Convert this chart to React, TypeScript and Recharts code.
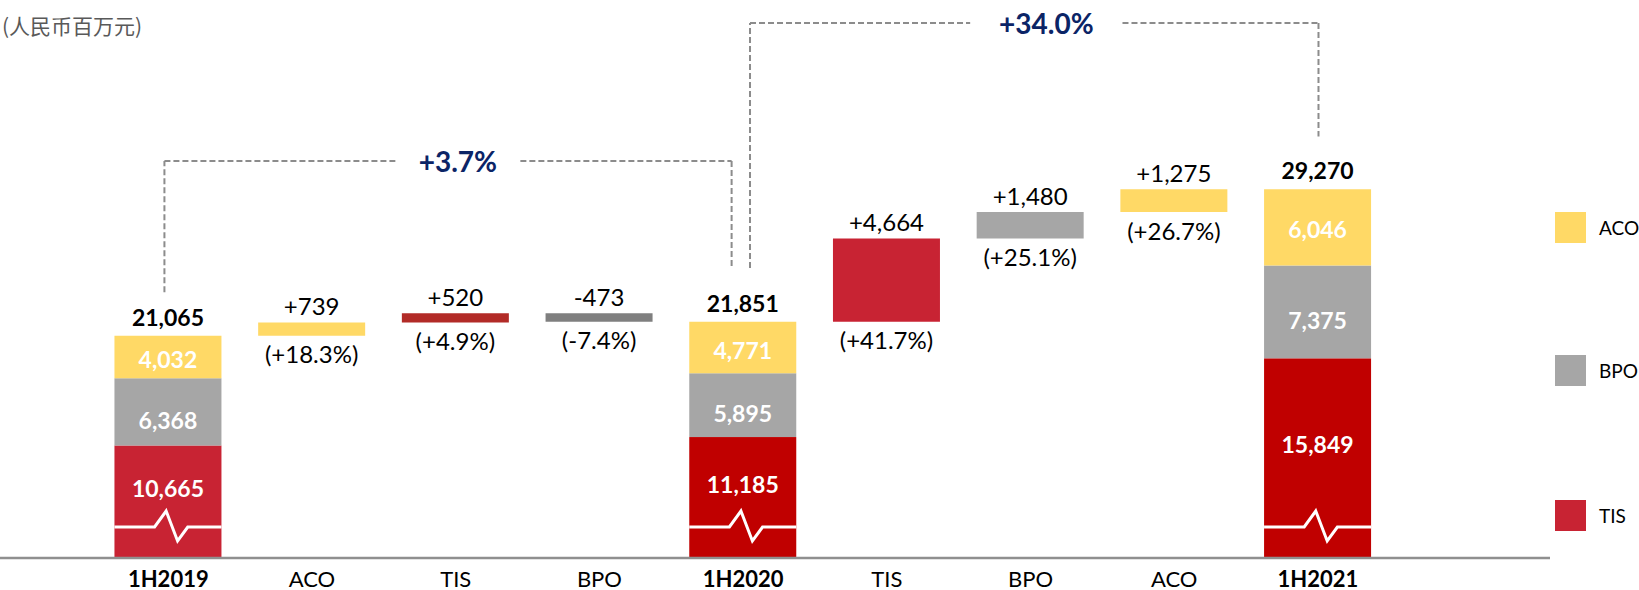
import React from 'react'
import {
  BarChart,
  Bar,
  XAxis,
  YAxis,
  Cell,
  LabelList,
  ReferenceLine,
  ReferenceDot,
} from 'recharts'

// categories along the axis, totals are the three half-year columns
const categories = ['1H2019', 'ACO', 'TIS', 'BPO', '1H2020', 'TIS', 'BPO', 'ACO', '1H2021']
const isTotal = [true, false, false, false, true, false, false, false, true]

// segment values of the total columns
const tisValues = [10665, null, null, null, 11185, null, null, null, 15849]
const bpoValues = [6368, null, null, null, 5895, null, null, null, 7375]
const acoValues = [4032, null, null, null, 4771, null, null, null, 6046]

// changes between the totals
const changeValues = [null, 739, 520, -473, null, 4664, 1480, 1275, null]
const changeShares = [null, '(+18.3%)', '(+4.9%)', '(-7.4%)', null, '(+41.7%)', '(+25.1%)', '(+26.7%)', null]

const growthLabels = ['+3.7%', '+34.0%']

// axis is broken: bars start at this value
const AXIS_FLOOR = 8620
const AXIS_TOP = 39308

const COLORS = {
  aco: '#FFD966',
  bpo: '#A6A6A6',
  tis: '#C82333',
  tisDark: '#C00000',
  navy: '#0B2466',
  dash: '#8C8C8C',
}
const tisColors = [COLORS.tis, '', '', '', COLORS.tisDark, '', '', '', COLORS.tisDark]
const changeColors = ['', COLORS.aco, '#B22B27', '#7F7F7F', '', COLORS.tis, COLORS.bpo, COLORS.aco, '']

const fmt = (v: number) => v.toLocaleString('en-US')
const FONT = 'Lato'

let level = 0
const rows = categories.map((name, i) => {
  if (isTotal[i]) {
    const tis = tisValues[i] as number
    const bpo = bpoValues[i] as number
    const aco = acoValues[i] as number
    level = tis + bpo + aco
    const k = (level - AXIS_FLOOR) / level
    return { idx: i, name, base: AXIS_FLOOR, tis: tis * k, bpo: bpo * k, aco: aco * k, delta: 0, total: level }
  }
  const d = changeValues[i] as number
  const start = level
  level += d
  return { idx: i, name, base: Math.min(start, level), tis: 0, bpo: 0, aco: 0, delta: Math.abs(d), total: level }
})

// bracket annotations (x in category units, y in axis units)
const brackets = [
  { label: growthLabels[0], x1: -0.027, x2: 3.92, top: 30850, leftEnd: 23500, rightEnd: 24860, mid: 2.015, half: 0.435 },
  { label: growthLabels[1], x1: 4.048, x2: 8.004, top: 38580, leftEnd: 24860, rightEnd: 32220, mid: 6.11, half: 0.53 },
]

const TisShape = (p: any) => {
  const { x, y, width, height, payload } = p
  if (!height || height <= 0) return null
  const i = payload.idx
  const fill = tisColors[i] || COLORS.tis
  const bottom = y + height
  const fy = bottom - 31
  const pts = [
    [x, fy],
    [x + 0.375 * width, fy],
    [x + 0.483 * width, bottom - 47],
    [x + 0.59 * width, bottom - 17],
    [x + 0.685 * width, fy],
    [x + width, fy],
  ]
  return (
    <g>
      <rect x={x} y={y} width={width} height={height} fill={fill} />
      <polyline
        points={pts.map((q) => q.join(',')).join(' ')}
        fill="none"
        stroke="#fff"
        strokeWidth={3}
        strokeLinejoin="miter"
      />
    </g>
  )
}

const segLabel = (key: 'tis' | 'bpo' | 'aco') => (props: any) => {
  const { x, y, width, height, value } = props
  const i = value as number
  if (!isTotal[i]) return null
  const raw = key === 'tis' ? tisValues[i] : key === 'bpo' ? bpoValues[i] : acoValues[i]
  const cx = x + width / 2
  let cy = y + height / 2
  if (key === 'tis') cy -= 14
  if (key === 'bpo') cy += 8
  if (key === 'aco') cy += 2
  return (
    <g>
      <text x={cx} y={cy} textAnchor="middle" dominantBaseline="central" fill="#fff" fontFamily={FONT} fontWeight={700} fontSize={23}>
        {fmt(raw as number)}
      </text>
      {key === 'aco' && (
        <text x={cx} y={y - 19} textAnchor="middle" dominantBaseline="central" fill="#000" fontFamily={FONT} fontWeight={700} fontSize={23}>
          {fmt(rows[i].total)}
        </text>
      )}
    </g>
  )
}

const changeLabel = (props: any) => {
  const { x, y, width, height, value } = props
  const i = value as number
  if (isTotal[i]) return null
  const d = changeValues[i] as number
  const cx = x + width / 2
  return (
    <g fontFamily={FONT} fontSize={24} fill="#000">
      <text x={cx} y={y - 17} textAnchor="middle" dominantBaseline="central">
        {(d > 0 ? '+' : '-') + fmt(Math.abs(d))}
      </text>
      <text x={cx} y={y + height + 18} textAnchor="middle" dominantBaseline="central">
        {changeShares[i]}
      </text>
    </g>
  )
}

const CategoryTick = (props: any) => {
  const { x, y, payload } = props
  const i = payload.value as number
  return (
    <text x={x} y={y} dy={20} textAnchor="middle" dominantBaseline="central" fontFamily={FONT} fontSize={22} fontWeight={isTotal[i] ? 700 : 400} fill="#000">
      {categories[i]}
    </text>
  )
}

const legendItems = [
  { name: 'ACO', color: COLORS.aco, top: 212 },
  { name: 'BPO', color: COLORS.bpo, top: 355 },
  { name: 'TIS', color: COLORS.tis, top: 500 },
]

const dashProps = { stroke: COLORS.dash, strokeWidth: 2, strokeDasharray: '6 3', ifOverflow: 'visible' as const }

export default function App() {
  return (
    <div style={{ position: 'absolute', left: 0, top: 0, width: 1639, height: 590, overflow: 'hidden', background: '#fff' }}>
      <div
        style={{
          position: 'absolute',
          left: 2,
          top: 10,
          lineHeight: '30px',
          fontSize: 21,
          color: '#595959',
          whiteSpace: 'nowrap',
          fontFamily: '"Noto Sans CJK SC", sans-serif',
        }}
      >
        (人民币百万元)
      </div>
      <BarChart width={1639} height={590} data={rows} margin={{ top: 10, right: 89, bottom: 2, left: 0 }} barSize={107}>
        <XAxis
          type="number"
          dataKey="idx"
          domain={[-1.1712, 9.615]}
          ticks={[0, 1, 2, 3, 4, 5, 6, 7, 8]}
          interval={0}
          allowDataOverflow
          tickLine={false}
          tickSize={0}
          tickMargin={0}
          height={30}
          axisLine={{ stroke: '#8F8F8F', strokeWidth: 2.6 }}
          tick={<CategoryTick />}
        />
        <YAxis hide type="number" domain={[AXIS_FLOOR, AXIS_TOP]} allowDataOverflow />
        <Bar dataKey="base" stackId="a" fill="transparent" isAnimationActive={false} />
        <Bar dataKey="tis" stackId="a" shape={<TisShape />} isAnimationActive={false}>
          {rows.map((r) => (
            <Cell key={r.idx} fill={tisColors[r.idx] || COLORS.tis} />
          ))}
          <LabelList dataKey="idx" content={segLabel('tis')} />
        </Bar>
        <Bar dataKey="bpo" stackId="a" fill={COLORS.bpo} isAnimationActive={false}>
          <LabelList dataKey="idx" content={segLabel('bpo')} />
        </Bar>
        <Bar dataKey="aco" stackId="a" fill={COLORS.aco} isAnimationActive={false}>
          <LabelList dataKey="idx" content={segLabel('aco')} />
        </Bar>
        <Bar dataKey="delta" stackId="a" isAnimationActive={false}>
          {rows.map((r) => (
            <Cell key={r.idx} fill={changeColors[r.idx] || COLORS.bpo} />
          ))}
          <LabelList dataKey="idx" content={changeLabel} />
        </Bar>
        {brackets.map((b) => (
          <React.Fragment key={b.label}>
            <ReferenceLine segment={[{ x: b.x1, y: b.leftEnd }, { x: b.x1, y: b.top }]} {...dashProps} />
            <ReferenceLine segment={[{ x: b.x1, y: b.top }, { x: b.mid - b.half, y: b.top }]} {...dashProps} />
            <ReferenceLine segment={[{ x: b.mid + b.half, y: b.top }, { x: b.x2, y: b.top }]} {...dashProps} />
            <ReferenceLine segment={[{ x: b.x2, y: b.top }, { x: b.x2, y: b.rightEnd }]} {...dashProps} />
            <ReferenceDot
              x={b.mid}
              y={b.top}
              r={0}
              ifOverflow="visible"
              shape={(p: any) => (
                <text x={p.cx} y={p.cy} textAnchor="middle" dominantBaseline="central" fontFamily={FONT} fontWeight={700} fontSize={28} fill={COLORS.navy}>
                  {b.label}
                </text>
              )}
            />
          </React.Fragment>
        ))}
      </BarChart>
      {legendItems.map((l) => (
        <div key={l.name} style={{ position: 'absolute', left: 1555, top: l.top, height: 31, display: 'flex', alignItems: 'center' }}>
          <div style={{ width: 31, height: 31, background: l.color }} />
          <span style={{ marginLeft: 13, fontFamily: FONT, fontSize: 19, color: '#000' }}>{l.name}</span>
        </div>
      ))}
    </div>
  )
}
